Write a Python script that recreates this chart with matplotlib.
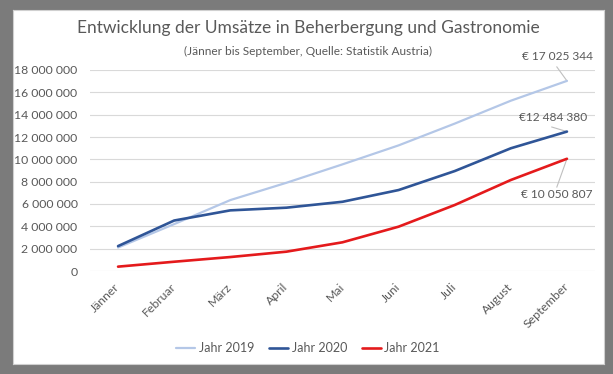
import matplotlib
matplotlib.use("Agg")
import matplotlib.pyplot as plt

months = ["Jänner", "Februar", "März", "April", "Mai", "Juni", "Juli", "August", "September"]
jahr_2019 = [2100000, 4200000, 6350000, 7900000, 9550000, 11250000, 13200000, 15250000, 17025344]
jahr_2020 = [2230000, 4520000, 5430000, 5670000, 6200000, 7250000, 8950000, 10990000, 12484380]
jahr_2021 = [390000, 830000, 1250000, 1730000, 2570000, 3970000, 5910000, 8150000, 10050807]
series_labels = ["Jahr 2019", "Jahr 2020", "Jahr 2021"]
yticks = [0, 2000000, 4000000, 6000000, 8000000, 10000000, 12000000, 14000000, 16000000, 18000000]
end_labels = ["€ 17 025 344", "€12 484 380", "€ 10 050 807"]

FONT = ["Lato", "DejaVu Sans"]
plt.rcParams["font.family"] = FONT
TXT = "#595959"

W, H = 613, 374
fig = plt.figure(figsize=(W / 100, H / 100), dpi=100)
fig.patch.set_facecolor("#7b7b7b")
bg = fig.add_axes([13 / W, 1 - 364 / H, (604 - 13) / W, (364 - 10) / H], zorder=0)
bg.set_xticks([]); bg.set_yticks([])
bg.set_facecolor("white")
for s in bg.spines.values():
    s.set_color("#d0d0d0"); s.set_linewidth(0.8)

ax = fig.add_axes([90 / W, 1 - 271 / H, (595 - 90) / W, (271 - 70) / H], zorder=1)
ax.set_facecolor("none")
x = list(range(len(months)))
colors = ["#b4c7e7", "#2f5597", "#e41a1c"]
widths = [1.6, 1.9, 1.9]
lines = []
for vals, c, lw, lab in zip([jahr_2019, jahr_2020, jahr_2021], colors, widths, series_labels):
    ln, = ax.plot(x, vals, color=c, lw=lw, label=lab, solid_capstyle="round", zorder=3)
    lines.append(ln)

ax.set_xlim(-0.5, len(months) - 0.5)
ax.set_ylim(0, 18000000)
ax.set_yticks(yticks)
ax.set_yticklabels([f"{v:,}".replace(",", " ") for v in yticks])
ax.grid(axis="y", color="#d9d9d9", lw=0.8)
ax.set_axisbelow(True)
for s in ax.spines.values():
    s.set_visible(False)
ax.tick_params(axis="both", length=0, colors=TXT, labelsize=8.8)
ax.tick_params(axis="y", pad=9)
ax.set_xticks(x)
ax.set_xticklabels(months, rotation=45, ha="right", va="center", rotation_mode="anchor")
ax.tick_params(axis="x", pad=10)

# end labels with leader lines
last = len(months) - 1
ann = [(jahr_2019[-1], (-0.16, 2150000), (-0.18, 1250000)),
       (jahr_2020[-1], (-0.25, 1220000), (-0.27, 410000)),
       (jahr_2021[-1], (-0.18, -3160000), (-0.18, -2530000))]
for (val, toff, loff), txt in zip(ann, end_labels):
    ax.text(last + toff[0], val + toff[1], txt, ha="center", va="center",
            fontsize=8.6, color=TXT, clip_on=False)
    ax.plot([last + loff[0], last], [val + loff[1], val], color="#bfbfbf", lw=0.8,
            zorder=2, clip_on=False)

fig.text(308 / W, 1 - 28 / H, "Entwicklung der Umsätze in Beherbergung und Gastronomie",
         ha="center", va="center", fontsize=12.5, color=TXT)
fig.text(308 / W, 1 - 51 / H, "(Jänner bis September, Quelle: Statistik Austria)",
         ha="center", va="center", fontsize=8.6, color=TXT)

fig.legend(handles=lines, labels=series_labels, loc="center", bbox_to_anchor=(308 / W, 1 - 348 / H),
           ncol=3, frameon=False, fontsize=9, labelcolor=TXT, handlelength=1.5,
           columnspacing=1.2, handletextpad=0.3)

fig.savefig("out.png", dpi=100, facecolor=fig.get_facecolor())
